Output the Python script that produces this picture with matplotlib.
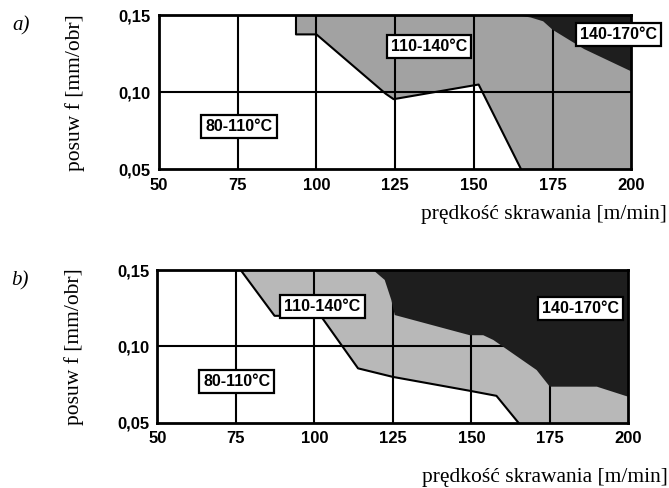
import matplotlib
matplotlib.use("Agg")
import matplotlib.pyplot as plt
from matplotlib.patches import Polygon

# axis ticks
x_ticks = [50, 75, 100, 125, 150, 175, 200]
y_ticks = [0.05, 0.10, 0.15]
y_tick_labels = ["0,05", "0,10", "0,15"]

# panel a) boundaries (speed [m/min], feed [mm/obr])
a_low_v = [93.5, 93.5, 100, 122, 124.5, 151.5, 165]
a_low_f = [0.15, 0.1375, 0.1375, 0.099, 0.0955, 0.105, 0.05]
a_high_v = [163.5, 168, 172, 175, 185, 200]
a_high_f = [0.15, 0.1485, 0.146, 0.1405, 0.128, 0.1135]

# panel b) boundaries
b_low_v = [76.5, 87.3, 102, 113.9, 125, 149.5, 158, 165]
b_low_f = [0.15, 0.12, 0.12, 0.0856, 0.080, 0.0709, 0.0676, 0.05]
b_high_v = [118.7, 122.4, 124.5, 125.6, 149.5, 153.8, 157, 170.8, 175, 190, 200]
b_high_f = [0.15, 0.1435, 0.1304, 0.1205, 0.1073, 0.1073, 0.1042, 0.0845, 0.0736, 0.0736, 0.067]

zones = ["80-110°C", "110-140°C", "140-170°C"]
a_label_pos = [(75.4, 0.0779), (135.8, 0.1294), (195.8, 0.1376)]
b_label_pos = [(75.2, 0.0770), (102.6, 0.1264), (184.9, 0.1247)]

sans = ["Liberation Sans Narrow", "Liberation Sans", "DejaVu Sans"]
serif = ["Liberation Serif", "DejaVu Serif"]

fig = plt.figure(figsize=(6.69, 4.88), dpi=100)
ax_a = fig.add_axes([0.2377, 0.653, 0.706, 0.316])
ax_b = fig.add_axes([0.2354, 0.1338, 0.7037, 0.3129])


def draw_panel(ax, low_v, low_f, high_v, high_f, label_pos, mid_col, tag, xl_x, xl_y):
    ax.set_xlim(50, 200)
    ax.set_ylim(0.05, 0.15)
    # medium zone: everything right of the low boundary
    mid = list(zip(low_v, low_f)) + [(200, 0.05), (200, 0.15)]
    ax.add_patch(Polygon(mid, closed=True, facecolor=mid_col, edgecolor="none", zorder=1))
    # grid
    for v in x_ticks[1:-1]:
        ax.plot([v, v], [0.05, 0.15], color="black", lw=1.5, zorder=2)
    ax.plot([50, 200], [0.10, 0.10], color="black", lw=1.5, zorder=2)
    # hot zone
    hot = list(zip(high_v, high_f)) + [(200, 0.15)]
    ax.add_patch(Polygon(hot, closed=True, facecolor="#1e1e1e", edgecolor="none", zorder=3))
    ax.plot(low_v, low_f, color="black", lw=1.5, zorder=4)

    for s in ax.spines.values():
        s.set_linewidth(2)
        s.set_zorder(5)
    ax.set_xticks(x_ticks)
    ax.set_yticks(y_ticks)
    ax.set_yticklabels(y_tick_labels)
    ax.tick_params(length=0, pad=6)
    for t in ax.get_xticklabels() + ax.get_yticklabels():
        t.set_family(sans)
        t.set_fontweight("bold")
        t.set_fontsize(12)

    for name, (v, f) in zip(zones, label_pos):
        ax.text(v, f, name, ha="center", va="center", family=sans, fontweight="bold",
                fontsize=11.5, zorder=6, clip_on=False,
                bbox=dict(boxstyle="square,pad=0.25", facecolor="white",
                          edgecolor="black", lw=1.6))

    ax.set_ylabel("posuw f [mm/obr]", family=serif, fontsize=15.5, labelpad=24)
    ax.text(-0.31, 0.99, tag, transform=ax.transAxes, family=serif, style="italic",
            fontsize=15, ha="left", va="top")
    ax.text(xl_x, xl_y, "prędkość skrawania [m/min]", transform=ax.transAxes,
            family=serif, fontsize=15.5, ha="right", va="center")


draw_panel(ax_a, a_low_v, a_low_f, a_high_v, a_high_f, a_label_pos, "#a2a2a2", "a)",
           1.076, -0.29)
draw_panel(ax_b, b_low_v, b_low_f, b_high_v, b_high_f, b_label_pos, "#b8b8b8", "b)",
           1.084, -0.36)

fig.savefig("out.png", dpi=100)
